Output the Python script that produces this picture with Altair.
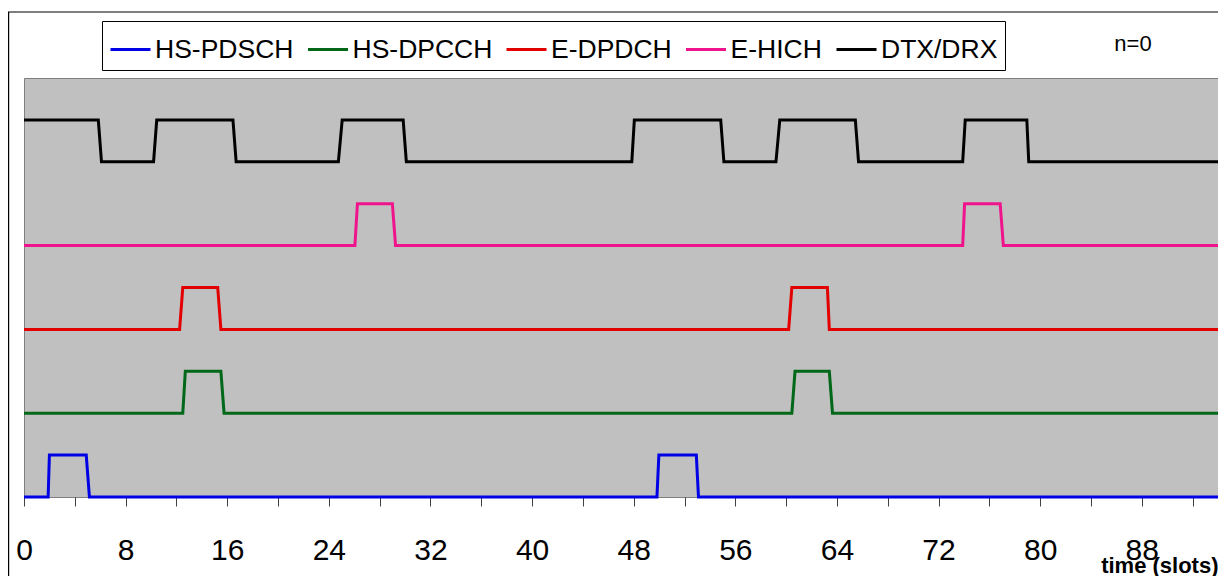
import altair as alt
import pandas as pd

# ---- data ----
series_names = ["HS-PDSCH", "HS-DPCCH", "E-DPDCH", "E-HICH", "DTX/DRX"]
series_colors = ["#0000E6", "#006818", "#E30000", "#F0148C", "#000000"]

hs_pdsch_t = [0, 1.9, 2.0, 4.9, 5.15, 49.83, 49.98, 52.93, 53.1, 94]
hs_pdsch_v = [0, 0, 0.5, 0.5, 0, 0, 0.5, 0.5, 0, 0]

hs_dpcch_t = [0, 12.5, 12.7, 15.5, 15.75, 60.45, 60.7, 63.4, 63.65, 94]
hs_dpcch_v = [1, 1, 1.5, 1.5, 1, 1, 1.5, 1.5, 1, 1]

e_dpdch_t = [0, 12.25, 12.5, 15.25, 15.5, 60.2, 60.45, 63.25, 63.4, 94]
e_dpdch_v = [2, 2, 2.5, 2.5, 2, 2, 2.5, 2.5, 2, 2]

e_hich_t = [0, 26.05, 26.25, 29.0, 29.25, 73.9, 74.05, 76.85, 77.1, 94]
e_hich_v = [3, 3, 3.5, 3.5, 3, 3, 3.5, 3.5, 3, 3]

dtx_drx_t = [0, 5.85, 6.1, 10.2, 10.45, 16.45, 16.7, 24.75, 25.05, 29.85, 30.1,
             47.85, 48.05, 54.85, 55.1, 59.2, 59.5, 65.45, 65.7, 73.9, 74.1,
             78.95, 79.1, 94]
dtx_drx_v = [4.5, 4.5, 4, 4, 4.5, 4.5, 4, 4, 4.5, 4.5, 4,
             4, 4.5, 4.5, 4, 4, 4.5, 4.5, 4, 4, 4.5,
             4.5, 4, 4]

x_ticks = [0, 4, 8, 12, 16, 20, 24, 28, 32, 36, 40, 44, 48, 52, 56, 60, 64,
           68, 72, 76, 80, 84, 88, 92]

series_t = [hs_pdsch_t, hs_dpcch_t, e_dpdch_t, e_hich_t, dtx_drx_t]
series_v = [hs_pdsch_v, hs_dpcch_v, e_dpdch_v, e_hich_v, dtx_drx_v]

rows = []
for name, ts, vs in zip(series_names, series_t, series_v):
    for t, v in zip(ts, vs):
        rows.append({"series": name, "t": t, "v": v})
df = pd.DataFrame(rows)

FONT = "Liberation Sans"
W = 1194
H = 419

lines = alt.Chart(df).mark_line(strokeWidth=3, strokeJoin="miter").encode(
    x=alt.X("t:Q",
            scale=alt.Scale(domain=[0, 94], nice=False, zero=False),
            axis=alt.Axis(values=x_ticks,
                          labelExpr="datum.value % 8 == 0 ? datum.label : ''",
                          format="d",
                          grid=False, domain=False,
                          tickSize=9, tickColor="#404040", tickWidth=1,
                          labelFont=FONT, labelFontSize=30, labelColor="black",
                          labelPadding=29, labelFlush=False, labelOverlap=False,
                          title="time (slots)", titleFont=FONT, titleFontSize=22,
                          titleFontWeight="bold", titleColor="black",
                          titleAnchor="end", titleAlign="right",
                          titleX=1194, titleY=75, titleBaseline="alphabetic")),
    y=alt.Y("v:Q", scale=alt.Scale(domain=[0, 5], nice=False), axis=None),
    color=alt.Color("series:N",
                    scale=alt.Scale(domain=series_names, range=series_colors),
                    legend=alt.Legend(title=None, orient="none",
                                      legendX=78, legendY=-57,
                                      direction="horizontal", columns=5,
                                      symbolType="stroke", symbolSize=1600,
                                      symbolStrokeWidth=3,
                                      labelFont=FONT, labelFontSize=26.5,
                                      labelColor="black", labelOffset=3,
                                      labelLimit=400, columnPadding=7.5,
                                      padding=7, strokeColor="black",
                                      fillColor="white")),
    detail="series:N",
    order="t:Q",
)

one = alt.Data(values=[{}])

n_text = alt.Chart(one).mark_text(
    text="n=0", font=FONT, fontSize=22, color="black", align="center",
    baseline="middle").encode(x=alt.value(1109), y=alt.value(-34))

frame_top = alt.Chart(one).mark_rule(color="black", strokeWidth=1.2).encode(
    x=alt.value(-16), x2=alt.value(1194), y=alt.value(-66))
frame_left = alt.Chart(one).mark_rule(color="black", strokeWidth=1.2).encode(
    x=alt.value(-15.4), y=alt.value(-66), y2=alt.value(510))

chart = alt.layer(lines, n_text, frame_top, frame_left).properties(
    width=W, height=H,
    padding={"left": 16, "top": 70, "right": 0, "bottom": 79},
    autosize="none",
    background="white",
).configure_view(fill="#C0C0C0", stroke="#808080", strokeWidth=1)

chart.save("out.html", embed_options={"renderer": "svg", "actions": False})
